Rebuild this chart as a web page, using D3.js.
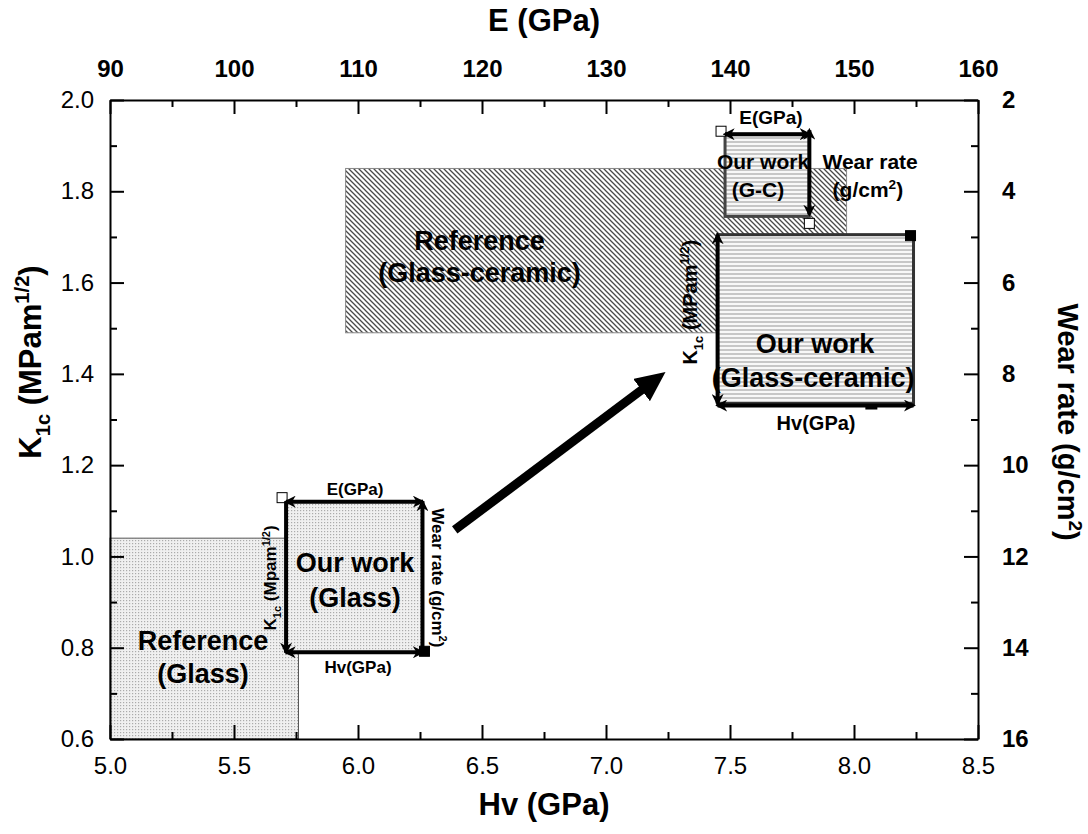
<!DOCTYPE html>
<html><head><meta charset="utf-8">
<script src="https://cdn.jsdelivr.net/npm/d3@7"></script>
<style>body{margin:0;background:#fff} svg{display:block} text{font-family:"Liberation Sans",Arial,sans-serif}</style>
</head><body><svg id="c" width="1088" height="834"></svg>
<script>
// ---- axis ticks ----
const hvTicks=[5.0,5.5,6.0,6.5,7.0,7.5,8.0,8.5];
const hvMinorTicks=[5.25,5.75,6.25,6.75,7.25,7.75,8.25];
const eTicks=[90,100,110,120,130,140,150,160];
const eMinorTicks=[95,105,115,125,135,145,155];
const k1cTicks=[0.6,0.8,1.0,1.2,1.4,1.6,1.8,2.0];
const k1cMinorTicks=[0.7,0.9,1.1,1.3,1.5,1.7,1.9];
const wearTicks=[2,4,6,8,10,12,14,16];
const wearMinorTicks=[3,5,7,9,11,13,15];

// ---- regions (Hv in GPa, K1c in MPa m^1/2) ----
const regionNames=["Reference (Glass)","Reference (Glass-ceramic)","Our work (Glass)","Our work (G-C)","Our work (Glass-ceramic)"];
const regionHvMin=[5.0,5.95,5.71,7.48,7.45];
const regionHvMax=[5.76,7.97,6.26,7.82,8.24];
const regionK1cMin=[0.6,1.49,0.79,1.745,1.335];
const regionK1cMax=[1.04,1.85,1.12,1.925,1.705];

// ---- trend arrow ----
const trendFrom=[6.39,1.058];
const trendTo=[7.24,1.404];

const L=110,R=978,T=100,B=739;
const x=d3.scaleLinear().domain([5,8.5]).range([L,R]);
const xTop=d3.scaleLinear().domain([90,160]).range([L,R]);
const y=d3.scaleLinear().domain([0.6,2.0]).range([B,T]);
const yR=d3.scaleLinear().domain([2,16]).range([T,B]);

const svg=d3.select('#c');
const defs=svg.append('defs');
// dotted fill
let p=defs.append('pattern').attr('id','dots').attr('width',3).attr('height',3).attr('patternUnits','userSpaceOnUse');
p.append('rect').attr('width',3).attr('height',3).attr('fill','#f0f0f0');
p.append('rect').attr('width',1.2).attr('height',1.2).attr('fill','#ababab');
// diagonal hatch
p=defs.append('pattern').attr('id','diag').attr('width',5).attr('height',5).attr('patternUnits','userSpaceOnUse');
p.append('rect').attr('width',5).attr('height',5).attr('fill','#fff');
p.append('path').attr('d','M-1,-1 L6,6 M-1,4 L1,6 M4,-1 L6,1').attr('stroke','#4a4a4a').attr('stroke-width',1.3);
// horizontal hatch
p=defs.append('pattern').attr('id','horiz').attr('width',4).attr('height',4).attr('patternUnits','userSpaceOnUse');
p.append('rect').attr('width',4).attr('height',4).attr('fill','#f8f8f8');
p.append('path').attr('d','M0,2 L4,2').attr('stroke','#adadad').attr('stroke-width',1.3);
// arrowheads
defs.append('marker').attr('id','ah').attr('viewBox','0 0 10 10').attr('refX',8).attr('refY',5)
  .attr('markerWidth',12).attr('markerHeight',12).attr('markerUnits','userSpaceOnUse').attr('orient','auto-start-reverse')
  .append('path').attr('d','M0,0 L10,5 L0,10 L3,5 z').attr('fill','#000');
defs.append('marker').attr('id','big').attr('viewBox','0 0 30 28').attr('refX',10).attr('refY',14)
  .attr('markerWidth',30).attr('markerHeight',28).attr('markerUnits','userSpaceOnUse').attr('orient','auto')
  .append('path').attr('d','M0,0 L30,14 L0,28 z').attr('fill','#000');

const fills=['url(#dots)','url(#diag)','url(#dots)','url(#horiz)','url(#horiz)'];
const strokes=['#555','#888','none','#444','#333'];
const sw=[1,1,0,3,3];
const rects=regionNames.map((n,i)=>({n,x0:x(regionHvMin[i]),x1:x(regionHvMax[i]),y0:y(regionK1cMax[i]),y1:y(regionK1cMin[i]),i}));
svg.append('g').selectAll('rect').data(rects).join('rect')
  .attr('x',d=>d.x0).attr('y',d=>d.y0).attr('width',d=>d.x1-d.x0).attr('height',d=>d.y1-d.y0)
  .attr('fill',d=>fills[d.i]).attr('stroke',d=>strokes[d.i]).attr('stroke-width',d=>sw[d.i]);

function line(x1,y1,x2,y2,start,end,w){
  const l=svg.append('line').attr('x1',x1).attr('y1',y1).attr('x2',x2).attr('y2',y2)
    .attr('stroke','#000').attr('stroke-width',w||4);
  if(start) l.attr('marker-start','url(#ah)');
  if(end) l.attr('marker-end','url(#ah)');
}
function sq(cx,cy,s,filled){
  svg.append('rect').attr('x',cx-s/2).attr('y',cy-s/2).attr('width',s).attr('height',s)
    .attr('fill',filled?'#000':'#fff').attr('stroke','#000').attr('stroke-width',1);
}
// Our work (Glass)
let g=rects[2];
sq(g.x0-4,g.y0-4,10,false);
line(g.x0,g.y0,g.x1,g.y0,true,true);
line(g.x0,g.y0,g.x0,g.y1,false,true);
line(g.x1,g.y1,g.x1,g.y0,false,true);
line(g.x0,g.y1,g.x1,g.y1,true,true);
sq(g.x1+2,g.y1-1,10,true);
// Our work (G-C)
g=rects[3];
sq(g.x0-4,g.y0-3,10,false);
line(g.x0,g.y0,g.x1,g.y0,true,true);
line(g.x1,g.y1-2,g.x1,g.y0-4,true,true);
sq(g.x1,g.y1+7,10,false);
// Our work (Glass-ceramic)
g=rects[4];
line(g.x0,g.y1,g.x0,g.y0,true,true);
line(g.x0,g.y1+2,g.x1,g.y1+2,true,true);
sq(g.x1-3,g.y0+1,10,true);
svg.append('rect').attr('x',x(8.07)-6).attr('y',g.y1+1).attr('width',12).attr('height',5).attr('fill','#000');

// trend arrow
{
  const ax=x(trendFrom[0]),ay=y(trendFrom[1]),bx=x(trendTo[0]),by=y(trendTo[1]);
  const len=Math.hypot(bx-ax,by-ay),ux=(bx-ax)/len,uy=(by-ay)/len;
  svg.append('line').attr('x1',ax).attr('y1',ay).attr('x2',bx-ux*20).attr('y2',by-uy*20)
    .attr('stroke','#000').attr('stroke-width',9).attr('marker-end','url(#big)');
}

// rich text helper
function rich(parts,px,py,fs,rot,anchor){
  const t=svg.append('text').attr('font-size',fs).attr('font-weight','bold').attr('text-anchor',anchor||'middle')
    .attr('transform',`translate(${px},${py})`+(rot?` rotate(${rot})`:''));
  let cur=0;
  parts.forEach(pt=>{
    const s=typeof pt==='string'?{t:pt}:pt;
    let target=s.sub?fs*0.3:s.sup?-fs*0.38:0;
    const ts=t.append('tspan').text(s.t).attr('dy',target-cur);
    if(s.sub||s.sup) ts.attr('font-size',fs*0.65);
    cur=target;
  });
  return t;
}
function lab(txt,hv,k,fs){rich([txt],x(hv),y(k),fs,0);}

// region labels
lab('Reference',6.49,1.671,27); lab('(Glass-ceramic)',6.49,1.601,27);
lab('Reference',5.375,0.795,27); lab('(Glass)',5.375,0.723,27);
lab('Our work',5.988,0.966,27); lab('(Glass)',5.988,0.889,27);
lab('Our work',7.843,1.446,27); lab('(Glass-ceramic)',7.835,1.371,27);
lab('Our work',7.633,1.849,21); lab('(G-C)',7.613,1.787,21);
lab('Wear rate',8.065,1.849,21); rich(['(g/cm',{t:'2',sup:1},')'],x(8.056),y(1.787),21,0);
lab('E(GPa)',7.665,1.947,19);
lab('Hv(GPa)',7.847,1.277,20);
lab('E(GPa)',5.988,1.135,17);
lab('Hv(GPa)',6.0,0.745,17);
rich(['K',{t:'1c',sub:1},' (Mpam',{t:'1/2',sup:1},')'],x(5.67),y(0.953),17,-90);
rich(['Wear rate (g/cm',{t:'2',sup:1},')'],x(6.30),y(0.953),17,90);
rich(['K',{t:'1c',sub:1},' (MPam',{t:'1/2',sup:1},')'],x(7.367),y(1.557),20,-90);

// axes
function styleAxis(sel,fs,bold){
  sel.attr('font-family',null).attr('font-size',fs);
  sel.selectAll('text').attr('fill','#000').attr('font-weight',bold?'bold':'normal');
  sel.selectAll('line').attr('stroke','#000').attr('stroke-width',2);
  sel.select('.domain').attr('stroke','#000').attr('stroke-width',2);
}
function minor(axis,tr){
  const m=svg.append('g').attr('transform',tr).call(axis.tickSize(-7).tickSizeOuter(0).tickFormat(''));
  m.select('.domain').remove(); m.selectAll('line').attr('stroke','#000').attr('stroke-width',2);
}
minor(d3.axisBottom(x).tickValues(hvMinorTicks),`translate(0,${B})`);
minor(d3.axisTop(xTop).tickValues(eMinorTicks),`translate(0,${T})`);
minor(d3.axisLeft(y).tickValues(k1cMinorTicks),`translate(${L},0)`);
minor(d3.axisRight(yR).tickValues(wearMinorTicks),`translate(${R},0)`);
styleAxis(svg.append('g').attr('transform',`translate(0,${B})`).call(d3.axisBottom(x).tickValues(hvTicks).tickFormat(d3.format('.1f')).tickSize(-14).tickSizeOuter(0).tickPadding(18)),24,false);
styleAxis(svg.append('g').attr('transform',`translate(0,${T})`).call(d3.axisTop(xTop).tickValues(eTicks).tickFormat(d3.format('d')).tickSize(-14).tickSizeOuter(0).tickPadding(23)),24,true);
styleAxis(svg.append('g').attr('transform',`translate(${L},0)`).call(d3.axisLeft(y).tickValues(k1cTicks).tickFormat(d3.format('.1f')).tickSize(-14).tickSizeOuter(0).tickPadding(16)),24,false);
styleAxis(svg.append('g').attr('transform',`translate(${R},0)`).call(d3.axisRight(yR).tickValues(wearTicks).tickFormat(d3.format('d')).tickSize(-14).tickSizeOuter(0).tickPadding(24)),24,true);

// axis titles
rich(['E (GPa)'],(L+R)/2,31,31,0);
rich(['Hv (GPa)'],(L+R)/2,815,31,0);
rich(['K',{t:'1c',sub:1},' (MPam',{t:'1/2',sup:1},')'],41,362,31,-90);
rich(['Wear rate (g/cm',{t:'2',sup:1},')'],1058,422,29,90);
</script></body></html>
